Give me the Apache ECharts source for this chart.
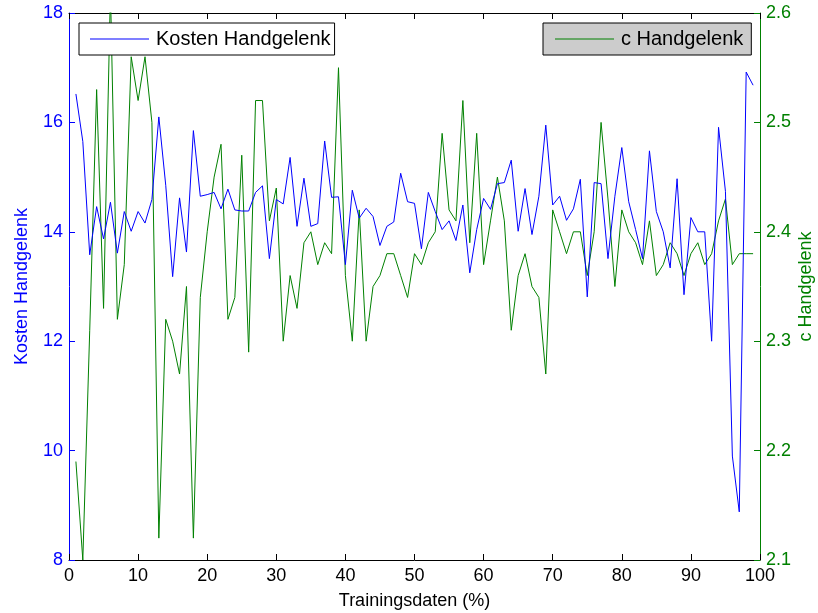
<!DOCTYPE html>
<html>
<head>
<meta charset="utf-8">
<script src="https://cdn.jsdelivr.net/npm/echarts@6/dist/echarts.min.js"></script>
<style>
  html, body { margin: 0; padding: 0; background: #ffffff; }
  #chart { width: 818px; height: 613px; }
</style>
</head>
<body>
<div id="chart"></div>
<script>
// Training data percentage (x positions)
var trainingsdaten = [
  1, 2, 3, 4, 5, 6, 7, 8, 9, 10, 11, 12, 13, 14, 15, 16, 17, 18, 19, 20,
  21, 22, 23, 24, 25, 26, 27, 28, 29, 30, 31, 32, 33, 34, 35, 36, 37, 38, 39, 40,
  41, 42, 43, 44, 45, 46, 47, 48, 49, 50, 51, 52, 53, 54, 55, 56, 57, 58, 59, 60,
  61, 62, 63, 64, 65, 66, 67, 68, 69, 70, 71, 72, 73, 74, 75, 76, 77, 78, 79, 80,
  81, 82, 83, 84, 85, 86, 87, 88, 89, 90, 91, 92, 93, 94, 95, 96, 97, 98, 99
];

// Kosten Handgelenk (left axis)
var kostenHandgelenk = [
  16.52, 15.65, 13.58, 14.46, 13.87, 14.54, 13.61, 14.37, 14.01, 14.37,
  14.16, 14.59, 16.10, 14.85, 13.18, 14.62, 13.63, 15.85, 14.65, 14.68,
  14.72, 14.42, 14.78, 14.40, 14.38, 14.38, 14.72, 14.84, 13.51, 14.59,
  14.51, 15.36, 14.10, 14.98, 14.10, 14.15, 15.66, 14.63, 14.64, 13.40,
  14.76, 14.25, 14.43, 14.28, 13.75, 14.10, 14.18, 15.07, 14.55, 14.52,
  13.69, 14.72, 14.37, 14.04, 14.20, 13.84, 14.49, 13.25, 14.04, 14.61,
  14.41, 14.88, 14.90, 15.31, 14.01, 14.79, 13.95, 14.65, 15.95, 14.49,
  14.65, 14.21, 14.42, 14.96, 12.81, 14.90, 14.88, 13.51, 14.65, 15.54,
  14.55, 14.04, 13.51, 15.48, 14.37, 14.00, 13.34, 14.97, 12.85, 14.26,
  14.00, 14.00, 12.00, 15.91, 14.74, 9.90, 8.88, 16.92, 16.68
];

// c Handgelenk (right axis)
var cHandgelenk = [
  2.19, 2.10, 2.31, 2.53, 2.33, 2.62, 2.32, 2.37, 2.56, 2.52,
  2.56, 2.50, 2.12, 2.32, 2.30, 2.27, 2.35, 2.12, 2.34, 2.40,
  2.45, 2.48, 2.32, 2.34, 2.47, 2.29, 2.52, 2.52, 2.41, 2.44,
  2.30, 2.36, 2.33, 2.39, 2.40, 2.37, 2.39, 2.38, 2.55, 2.36,
  2.30, 2.42, 2.30, 2.35, 2.36, 2.38, 2.38, 2.36, 2.34, 2.38,
  2.37, 2.39, 2.40, 2.49, 2.42, 2.41, 2.52, 2.39, 2.49, 2.37,
  2.41, 2.45, 2.41, 2.31, 2.36, 2.38, 2.35, 2.34, 2.27, 2.42,
  2.40, 2.38, 2.40, 2.40, 2.36, 2.40, 2.50, 2.43, 2.35, 2.42,
  2.40, 2.39, 2.37, 2.41, 2.36, 2.37, 2.39, 2.38, 2.36, 2.38,
  2.39, 2.37, 2.38, 2.41, 2.43, 2.37, 2.38, 2.38, 2.38
];

var leftTicks = { min: 8, max: 18, interval: 2 };
var rightTicks = { min: 2.1, max: 2.6, interval: 0.1 };
var xTicks = { min: 0, max: 100, interval: 10 };

var BLUE = '#0000ff';
var GREEN = '#008000';
var FONT = 'Liberation Sans, Arial, Helvetica, sans-serif';

function pairs(xs, ys) {
  return ys.map(function (v, i) { return [xs[i], v]; });
}

var chart = echarts.init(document.getElementById('chart'), null, { renderer: 'canvas' });

chart.setOption({
  animation: false,
  backgroundColor: '#ffffff',
  grid: { left: 69, right: 58, top: 13, bottom: 53, containLabel: false, outerBoundsMode: 'none' },
  legend: [
    {
      data: ['Kosten Handgelenk'],
      left: 79, top: 23,
      orient: 'horizontal',
      icon: 'rect',
      itemWidth: 59, itemHeight: 1,
      padding: [6, 4, 6, 11],
      backgroundColor: '#ffffff',
      borderColor: '#000000', borderWidth: 1, borderRadius: 0,
      textStyle: { fontSize: 20, fontFamily: FONT, color: '#000000', padding: [0, 0, 0, 2] }
    },
    {
      data: ['c Handgelenk'],
      left: 543, top: 23,
      orient: 'horizontal',
      icon: 'rect',
      itemWidth: 59, itemHeight: 1,
      padding: [6, 8, 6, 12],
      backgroundColor: '#cccccc',
      borderColor: '#000000', borderWidth: 1, borderRadius: 0,
      textStyle: { fontSize: 20, fontFamily: FONT, color: '#000000', padding: [0, 0, 0, 2] }
    }
  ],
  xAxis: [
    {
      type: 'value', position: 'bottom',
      min: xTicks.min, max: xTicks.max, interval: xTicks.interval,
      name: 'Trainingsdaten (%)', nameLocation: 'middle', nameGap: 32,
      nameTextStyle: { fontSize: 18, fontFamily: FONT, color: '#000000' },
      axisLine: { show: true, lineStyle: { color: '#000000', width: 1 } },
      axisTick: { show: true, inside: true, length: 6, lineStyle: { color: '#000000' } },
      axisLabel: { fontSize: 18, fontFamily: FONT, color: '#000000', margin: 7 },
      splitLine: { show: false }
    },
    {
      type: 'value', position: 'top',
      min: xTicks.min, max: xTicks.max, interval: xTicks.interval,
      axisLine: { show: true, lineStyle: { color: '#000000', width: 1 } },
      axisTick: { show: true, inside: true, length: 6, lineStyle: { color: '#000000' } },
      axisLabel: { show: false },
      splitLine: { show: false }
    }
  ],
  yAxis: [
    {
      type: 'value', position: 'left',
      min: leftTicks.min, max: leftTicks.max, interval: leftTicks.interval,
      name: 'Kosten Handgelenk', nameLocation: 'middle', nameGap: 38, nameRotate: 90,
      nameMoveOverlap: false,
      nameTextStyle: { fontSize: 18, fontFamily: FONT, color: BLUE },
      axisLine: { show: true, onZero: false, lineStyle: { color: BLUE, width: 1 } },
      axisTick: { show: true, inside: true, length: 6, lineStyle: { color: BLUE } },
      axisLabel: { fontSize: 18, fontFamily: FONT, color: BLUE, margin: 6 },
      splitLine: { show: false }
    },
    {
      type: 'value', position: 'right',
      min: rightTicks.min, max: rightTicks.max, interval: rightTicks.interval,
      name: 'c Handgelenk', nameLocation: 'middle', nameGap: 37, nameRotate: 90,
      nameMoveOverlap: false,
      nameTextStyle: { fontSize: 18, fontFamily: FONT, color: GREEN },
      axisLine: { show: true, onZero: false, lineStyle: { color: GREEN, width: 1 } },
      axisTick: { show: true, inside: true, length: 6, lineStyle: { color: GREEN } },
      axisLabel: {
        fontSize: 18, fontFamily: FONT, color: GREEN, margin: 6,
        formatter: function (v) { return v.toFixed(1); }
      },
      splitLine: { show: false }
    }
  ],
  series: [
    {
      name: 'Kosten Handgelenk', type: 'line',
      xAxisIndex: 0, yAxisIndex: 0,
      data: pairs(trainingsdaten, kostenHandgelenk),
      symbol: 'none', clip: true,
      lineStyle: { color: BLUE, width: 1 },
      itemStyle: { color: BLUE },
      z: 3
    },
    {
      name: 'c Handgelenk', type: 'line',
      xAxisIndex: 0, yAxisIndex: 1,
      data: pairs(trainingsdaten, cHandgelenk),
      symbol: 'none', clip: true,
      lineStyle: { color: GREEN, width: 1 },
      itemStyle: { color: GREEN },
      z: 2
    }
  ]
});
</script>
</body>
</html>
